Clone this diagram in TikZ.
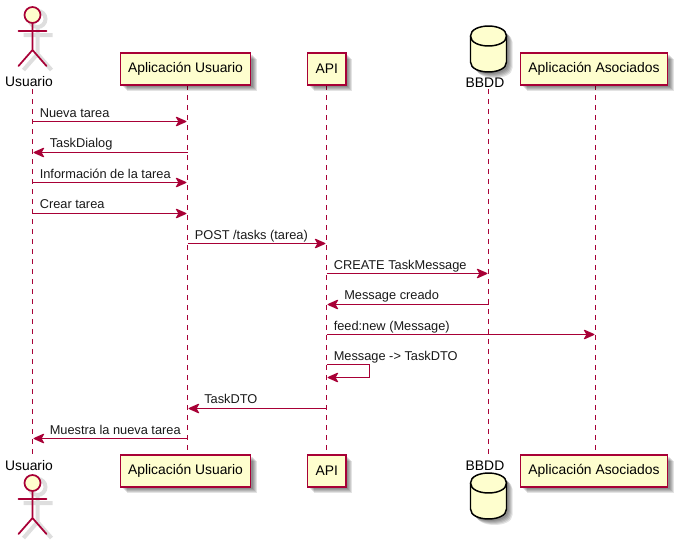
\documentclass[tikz,border=0pt]{standalone}
\usepackage{fontspec}
\setmainfont{Liberation Sans}
\usetikzlibrary{arrows.meta,backgrounds}
\definecolor{umlred}{HTML}{A80036}
\definecolor{umlfill}{HTML}{FEFECE}
\tikzset{
  x=0.75pt,y=-0.75pt,
  lifeline/.style={umlred,line width=0.75pt,dash pattern=on 3.75pt off 3.75pt},
  msg/.style={umlred,line width=0.75pt,-{Stealth[length=9pt,width=8pt,inset=2.4pt,round=false]},shorten >=0.4pt},
  msgtext/.style={font=\fontsize{9.6pt}{11pt}\selectfont,anchor=base west,inner sep=0pt,text=black!90},
  partbox/.style={draw=umlred,fill=umlfill,line width=1.1pt,inner sep=0pt,text=black,font=\fontsize{10.4pt}{12pt}\selectfont},
  partlabel/.style={inner sep=0pt,anchor=base,text=black,font=\fontsize{10.4pt}{12pt}\selectfont},
  actorline/.style={umlred,line width=1.3pt,line cap=round},
  actorshadow/.style={black!13,line width=3pt},
  dbshape/.style={draw=black,fill=umlfill,line width=1.1pt}
}
\newcommand{\actorfig}[2]{% x, head centre y
  \begin{scope}[shift={(#1,#2)}]
    \draw[actorshadow] (5,4) circle[radius=8];
    \draw[actorshadow] (5,13) -- (5,39) (-9,20) -- (20,20) (5,39) -- (-9,55) (5,39) -- (19,55);
    \draw[actorline,fill=umlfill] (0,0) circle[radius=8];
    \draw[actorline] (0,8) -- (0,35) (-14,16) -- (14,16) (0,35) -- (-14,51) (0,35) -- (14,51);
  \end{scope}}
\newcommand{\dbfig}[2]{% centre x, top y
  \begin{scope}[shift={(#1,#2)}]
    \foreach \d in {2,3,4,5,6}{
      \fill[black,opacity=.11] (-18+\d,10+\d) .. controls (-18+\d,\d-3.3) and (18+\d,\d-3.3) .. (18+\d,10+\d) -- (18+\d,36+\d) .. controls (18+\d,49.3+\d) and (-18+\d,49.3+\d) .. (-18+\d,36+\d) -- cycle;
    }
    \draw[dbshape] (-18,10) .. controls (-18,-3.3) and (18,-3.3) .. (18,10) -- (18,36) .. controls (18,49.3) and (-18,49.3) .. (-18,36) -- cycle;
    \draw[black,line width=1.1pt] (-18,10) .. controls (-18,23.3) and (18,23.3) .. (18,10);
  \end{scope}}
\newcommand{\boxshadow}[4]{% x1,y1,x2,y2
  \foreach \d in {2,3,4,5,6}{
    \fill[black,opacity=.11] (#1+\d,#2+\d) rectangle (#3+\d,#4+\d);
  }}
\begin{document}
\begin{tikzpicture}
\useasboundingbox (0,0) rectangle (680,539);
% lifeline end points
\coordinate (uT) at (32.5,89);  \coordinate (uB) at (32.5,455);
\coordinate (aT) at (187.5,85); \coordinate (aB) at (187.5,455);
\coordinate (pT) at (326.5,85); \coordinate (pB) at (326.5,455);
\coordinate (dT) at (488.5,89); \coordinate (dB) at (488.5,455);
\coordinate (cT) at (595.5,85); \coordinate (cB) at (595.5,455);
\draw[lifeline] (uT) -- (uB);
\draw[lifeline] (aT) -- (aB);
\draw[lifeline] (pT) -- (pB);
\draw[lifeline] (dT) -- (dB);
\draw[lifeline] (cT) -- (cB);
% actors
\actorfig{32.5}{15}
\actorfig{32.5}{483}
\node[partlabel] (userT) at (29,86.5) {Usuario};
\node[partlabel] (userB) at (29,470) {Usuario};
% databases
\dbfig{488.5}{26}
\dbfig{488.5}{473}
\node[partlabel] (dbT) at (485,87) {BBDD};
\node[partlabel] (dbB) at (485,470) {BBDD};
% participant boxes
\boxshadow{120.5}{53}{250.5}{85}
\boxshadow{307.5}{53}{346}{85}
\boxshadow{520.5}{53}{667.5}{85}
\boxshadow{120.5}{455}{250.5}{487}
\boxshadow{307.5}{455}{346}{487}
\boxshadow{520.5}{455}{667.5}{487}
\node[partbox,minimum width=97.5pt,minimum height=24pt] (appT) at (185.5,69) {Aplicación Usuario};
\node[partbox,minimum width=29pt,minimum height=24pt] (apiT) at (326.7,69) {API};
\node[partbox,minimum width=110pt,minimum height=24pt] (assT) at (594,69) {Aplicación Asociados};
\node[partbox,minimum width=97.5pt,minimum height=24pt] (appB) at (185.5,471) {Aplicación Usuario};
\node[partbox,minimum width=29pt,minimum height=24pt] (apiB) at (326.7,471) {API};
\node[partbox,minimum width=110pt,minimum height=24pt] (assB) at (594,471) {Aplicación Asociados};
% messages
\coordinate (m1a) at (32.5,121.5);  \coordinate (m1b) at (187,121.5);
\coordinate (m2a) at (187.5,152.5); \coordinate (m2b) at (33,152.5);
\coordinate (m3a) at (32.5,182.5);  \coordinate (m3b) at (187,182.5);
\coordinate (m4a) at (32.5,213.5);  \coordinate (m4b) at (187,213.5);
\coordinate (m5a) at (187.5,243.5); \coordinate (m5b) at (326,243.5);
\coordinate (m6a) at (326.5,273.5); \coordinate (m6b) at (488,273.5);
\coordinate (m7a) at (488.5,304.5); \coordinate (m7b) at (327,304.5);
\coordinate (m8a) at (326.5,334.5); \coordinate (m8b) at (595,334.5);
\coordinate (m9a) at (326.5,364.5); \coordinate (m9r) at (369.5,364.5); \coordinate (m9s) at (369.5,377.5); \coordinate (m9b) at (327,377.5);
\coordinate (m10a) at (326.5,408.5); \coordinate (m10b) at (188,408.5);
\coordinate (m11a) at (187.5,438.5); \coordinate (m11b) at (33,438.5);
\draw[msg] (m1a) -- (m1b);
\draw[msg] (m2a) -- (m2b);
\draw[msg] (m3a) -- (m3b);
\draw[msg] (m4a) -- (m4b);
\draw[msg] (m5a) -- (m5b);
\draw[msg] (m6a) -- (m6b);
\draw[msg] (m7a) -- (m7b);
\draw[msg] (m8a) -- (m8b);
\draw[msg] (m9a) -- (m9r) -- (m9s) -- (m9b);
\draw[msg] (m10a) -- (m10b);
\draw[msg] (m11a) -- (m11b);
\node[msgtext] (t1) at (39.5,117) {Nueva tarea};
\node[msgtext] (t2) at (49.5,147.5) {TaskDialog};
\node[msgtext] (t3) at (39.5,178) {Información de la tarea};
\node[msgtext] (t4) at (39.5,208.5) {Crear tarea};
\node[msgtext] (t5) at (194.5,239) {POST /tasks (tarea)};
\node[msgtext] (t6) at (333.5,269) {CREATE TaskMessage};
\node[msgtext] (t7) at (344,299.5) {Message creado};
\node[msgtext] (t8) at (333.5,330) {feed:new (Message)};
\node[msgtext] (t9) at (333.5,360) {Message -> TaskDTO};
\node[msgtext] (t10) at (204,403) {TaskDTO};
\node[msgtext] (t11) at (49.5,434) {Muestra la nueva tarea};
\end{tikzpicture}
\end{document}
